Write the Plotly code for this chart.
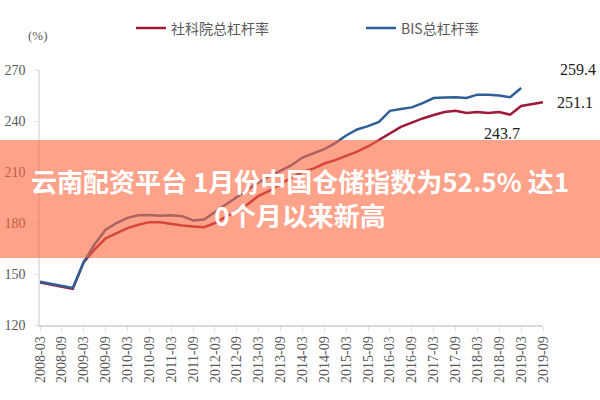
import plotly.graph_objects as go

dates = []
for yr in range(2008, 2020):
    for m in ["03", "06", "09", "12"]:
        dates.append(f"{yr}-{m}")
dates = dates[:47]  # 2008-03 .. 2019-09

cass = [145.0, 143.8, 142.5, 141.3, 157.0, 164.5, 171.0, 174.0, 177.0, 179.0,
        180.5, 180.5, 179.5, 178.5, 178.0, 177.5, 180.0, 183.5, 187.0, 191.0,
        196.0, 199.0, 203.0, 206.5, 210.0, 212.0, 215.0, 217.0, 219.5, 222.0,
        225.0, 229.0, 233.0, 236.5, 239.0, 241.5, 243.5, 245.3, 246.0, 244.7,
        245.3, 244.7, 245.3, 243.7, 248.8, 250.0, 251.1]

bis = [145.5, 144.3, 143.0, 141.8, 157.0, 167.5, 176.0, 180.0, 183.0, 184.5,
       184.7, 184.3, 184.5, 184.0, 181.5, 182.0, 186.5, 191.0, 195.5, 200.0,
       204.0, 207.5, 211.0, 214.0, 218.5, 221.0, 223.5, 227.0, 231.5, 235.0,
       237.0, 239.5, 246.0, 247.0, 248.0, 250.5, 253.5, 253.8, 254.0, 253.5,
       255.5, 255.5, 255.0, 254.0, 259.4]

tick_labels = dates[::2]
y_ticks = [120, 150, 180, 210, 240, 270]

serif = "Liberation Serif"
gray = "#595959"
red = "#9E1A36"
blue = "#2F5F98"

fig = go.Figure()
fig.add_trace(go.Scatter(x=dates, y=cass, mode="lines", name="社科院总杠杆率",
                         line=dict(color=red, width=2.5), legend="legend"))
fig.add_trace(go.Scatter(x=dates[:len(bis)], y=bis, mode="lines", name="BIS总杠杆率",
                         line=dict(color=blue, width=2.5), legend="legend2"))

legend_font = dict(family="Noto Sans CJK SC", size=14, color=gray)

fig.update_layout(
    width=600, height=400,
    margin=dict(l=40, r=57, t=70, b=75, autoexpand=False),
    paper_bgcolor="white", plot_bgcolor="white",
    showlegend=True,
    legend=dict(x=(131 - 40) / 503, y=(325 - 12.5) / 255,
                xanchor="left", yanchor="top", font=legend_font,
                bgcolor="rgba(0,0,0,0)"),
    legend2=dict(x=(361 - 40) / 503, y=(325 - 12.5) / 255,
                 xanchor="left", yanchor="top", font=legend_font,
                 bgcolor="rgba(0,0,0,0)"),
    xaxis=dict(type="category", categoryorder="array", categoryarray=dates,
               range=[0, len(dates) - 1], tickmode="array", tickvals=tick_labels,
               ticktext=tick_labels, tickangle=-90, automargin=False,
               tickfont=dict(family=serif, size=14, color=gray),
               showline=True, linecolor="#d9d9d9", linewidth=1.5,
               ticks="outside", ticklen=4, tickcolor="#d9d9d9",
               showgrid=False, zeroline=False),
    yaxis=dict(range=[120, 270], tickmode="array", tickvals=y_ticks, automargin=False,
               tickfont=dict(family=serif, size=14, color=gray),
               showline=True, linecolor="#e3e3e3", linewidth=1.5,
               ticks="outside", ticklen=4, tickcolor="#e3e3e3",
               ticklabelstandoff=6,
               showgrid=False, zeroline=False),
)

fig.add_annotation(text="(%)", xref="paper", yref="paper",
                   x=(37.5 - 40) / 503, y=(325 - 35) / 255,
                   xanchor="center", yanchor="middle",
                   showarrow=False, font=dict(family=serif, size=13, color=gray))

fig.add_annotation(text="259.4", x=dates[len(bis) - 1], y=bis[-1], xref="x", yref="y",
                   xshift=57, yshift=19, showarrow=False,
                   font=dict(family=serif, size=16, color="#222222"))
fig.add_annotation(text="251.1", x=dates[-1], y=cass[-1], xref="x", yref="y",
                   xshift=32, yshift=0, showarrow=False,
                   font=dict(family=serif, size=16, color="#222222"))
fig.add_annotation(text="243.7", x=dates[43], y=cass[43], xref="x", yref="y",
                   xshift=-8, yshift=-19, showarrow=False,
                   font=dict(family=serif, size=16, color="#222222"))

# overlay banner
fig.add_shape(type="rect", xref="paper", yref="paper",
              x0=-0.1, x1=1.2, y0=(325 - 258) / 255, y1=(325 - 140) / 255,
              fillcolor="rgba(255,100,60,0.6)", line=dict(width=0), layer="above")
fig.add_annotation(text="云南配资平台 1月份中国仓储指数为52.5% 达1<br>0个月以来新高",
                   xref="paper", yref="paper", x=(300 - 40) / 503, y=(325 - 197) / 255,
                   showarrow=False, align="center",
                   font=dict(family="Noto Sans CJK SC", size=26, color="white", weight="bold"))

fig.write_html("out.html")
